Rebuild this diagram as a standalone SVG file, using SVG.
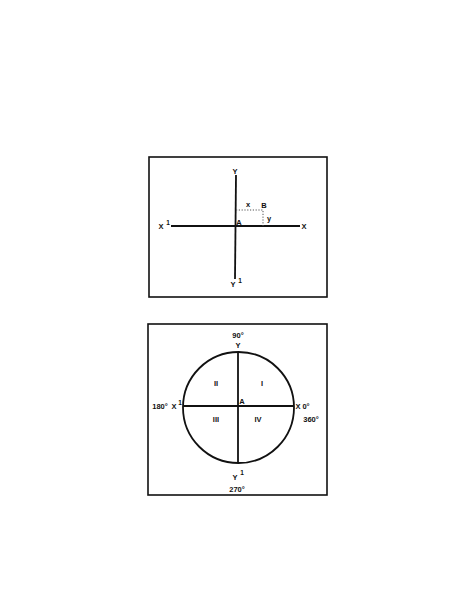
<svg xmlns="http://www.w3.org/2000/svg" width="474" height="613" viewBox="0 0 474 613">
<style>
.frame{fill:none;stroke:#111;stroke-width:1.6}
.axis{fill:none;stroke:#111;stroke-width:1.8}
.dot{fill:none;stroke:#555;stroke-width:1;stroke-dasharray:1.2 1.6}
text{font-family:"Liberation Sans",Arial,sans-serif;font-size:7.5px;font-weight:bold;fill:#111;text-anchor:middle;dominant-baseline:central}
.sup{font-size:6.5px}
</style>
<rect width="474" height="613" fill="#fff"/>
<g id="fig1">
<rect class="frame" x="149" y="157" width="178" height="140"/>
<g id="fig1-axes">
<line class="axis" x1="171" y1="226" x2="300" y2="226"/>
<line class="axis" x1="236" y1="175" x2="235" y2="279"/>
<polyline class="dot" points="236,210 263,210 263,226"/>
</g>
<g id="fig1-labels">
<text x="235" y="171">Y</text>
<text x="161" y="226">X</text>
<text class="sup" x="168" y="222">1</text>
<text x="304" y="226">X</text>
<text x="233" y="284">Y</text>
<text class="sup" x="240" y="280">1</text>
<text x="248" y="204">x</text>
<text x="264" y="205">B</text>
<text x="269" y="218">y</text>
<text x="239" y="222">A</text>
</g>
</g>
<g id="fig2">
<rect class="frame" x="148" y="324" width="179" height="171"/>
<g id="fig2-axes">
<circle class="axis" cx="238.5" cy="407.5" r="55.5"/>
<line class="axis" x1="183" y1="406" x2="294" y2="406"/>
<line class="axis" x1="238" y1="352" x2="238" y2="463"/>
</g>
<g id="fig2-labels">
<text x="238" y="335">90°</text>
<text x="238" y="345">Y</text>
<text x="160" y="406">180°</text>
<text x="174" y="406">X</text>
<text class="sup" x="180" y="402">1</text>
<text x="298" y="406">X</text>
<text x="306" y="406">0°</text>
<text x="311" y="419">360°</text>
<text x="216" y="383">II</text>
<text x="262" y="383">I</text>
<text x="216" y="419">III</text>
<text x="258" y="419">IV</text>
<text x="242" y="401">A</text>
<text x="235" y="477">Y</text>
<text class="sup" x="242" y="472">1</text>
<text x="237" y="489">270°</text>
</g>
</g>
</svg>
